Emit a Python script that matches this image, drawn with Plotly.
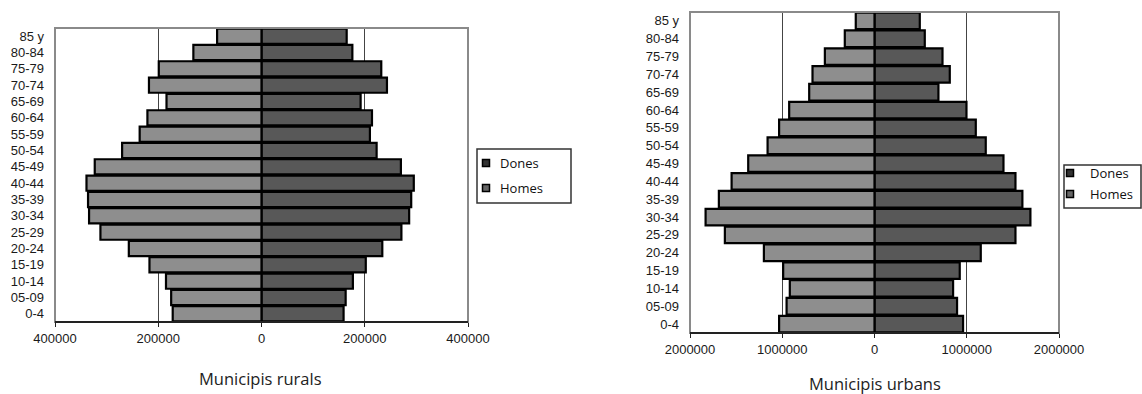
import plotly.graph_objects as go

ages = ["0-4", "05-09", "10-14", "15-19", "20-24", "25-29", "30-34", "35-39",
        "40-44", "45-49", "50-54", "55-59", "60-64", "65-69", "70-74", "75-79",
        "80-84", "85 y"]

rural_homes = [172000, 175000, 185000, 217000, 257000, 312000, 334000, 336000,
               339000, 323000, 270000, 236000, 221000, 184000, 218000, 199000,
               132000, 86000]
rural_dones = [159000, 163000, 177000, 202000, 234000, 271000, 286000, 290000,
               295000, 270000, 223000, 210000, 214000, 192000, 243000, 232000,
               176000, 165000]

urban_homes = [1034000, 953000, 918000, 990000, 1199000, 1622000, 1831000, 1687000,
               1549000, 1369000, 1159000, 1034000, 925000, 708000, 672000, 538000,
               322000, 203000]
urban_dones = [960000, 895000, 852000, 924000, 1152000, 1528000, 1690000, 1603000,
               1528000, 1398000, 1206000, 1098000, 997000, 693000, 816000, 737000,
               545000, 491000]

rural_ticks = [-400000, -200000, 0, 200000, 400000]
rural_ticktext = ["400000", "200000", "0", "200000", "400000"]
urban_ticks = [-2000000, -1000000, 0, 1000000, 2000000]
urban_ticktext = ["2000000", "1000000", "0", "1000000", "2000000"]

series_names = ["Dones", "Homes"]
titles = ["Municipis rurals", "Municipis urbans"]

W, H = 1142, 394
DONES_COL = "#585858"
HOMES_COL = "#8e8e8e"
TICK_FONT = dict(family="Liberation Sans", size=13, color="#1a1a1a")
TEXT_FONT = dict(family="Open Sans", size=13, color="#111")


def px_x(p):
    return p / W


def px_y(p):
    return 1 - p / H


fig = go.Figure()

fig.add_trace(go.Bar(y=ages, x=rural_dones, orientation="h", name=series_names[0],
                     marker=dict(color=DONES_COL, line=dict(color="black", width=2.2)),
                     xaxis="x", yaxis="y"))
fig.add_trace(go.Bar(y=ages, x=[-v for v in rural_homes], orientation="h", name=series_names[1],
                     marker=dict(color=HOMES_COL, line=dict(color="black", width=2.2)),
                     xaxis="x", yaxis="y"))
fig.add_trace(go.Bar(y=ages, x=urban_dones, orientation="h", name=series_names[0],
                     marker=dict(color=DONES_COL, line=dict(color="black", width=2.2)),
                     xaxis="x2", yaxis="y2"))
fig.add_trace(go.Bar(y=ages, x=[-v for v in urban_homes], orientation="h", name=series_names[1],
                     marker=dict(color=HOMES_COL, line=dict(color="black", width=2.2)),
                     xaxis="x2", yaxis="y2"))

# plot areas in pixels: (left, right, top, bottom)
L_box = (55, 468, 28, 322)
R_box = (690, 1059, 12, 333)

common_x = dict(type="linear", showgrid=True, gridcolor="#444", gridwidth=1.2, zeroline=False,
                showline=False, ticks="outside",
                ticklen=4, tickcolor="#222", tickwidth=1.2, tickfont=TICK_FONT, fixedrange=True,
                automargin=False)
common_y = dict(type="category", showgrid=False, zeroline=False, showline=False, ticks="",
                tickfont=TICK_FONT, ticklabelstandoff=10, fixedrange=True,
                automargin=False)

shapes = []
annotations = []
for (l, r, t, b) in (L_box, R_box):
    shapes.append(dict(type="rect", xref="paper", yref="paper",
                       x0=px_x(l), x1=px_x(r), y0=px_y(b), y1=px_y(t),
                       line=dict(color="#8a8a8a", width=2), layer="above"))
    shapes.append(dict(type="line", xref="paper", yref="paper",
                       x0=px_x(l), x1=px_x(r), y0=px_y(b), y1=px_y(b),
                       line=dict(color="#222", width=2), layer="above"))

# legends: (box left, right, top, bottom, marker x, text x, row ys)
legends = [
    (477, 571, 149, 203, 486, 498, (163, 188)),
    (1064, 1141, 165, 208, 1070, 1088, (173, 194)),
]
for (bl, br, bt, bb, mx, tx, ys) in legends:
    shapes.append(dict(type="rect", xref="paper", yref="paper",
                       x0=px_x(bl), x1=px_x(br), y0=px_y(bb), y1=px_y(bt),
                       line=dict(color="#333", width=1.5), fillcolor="white", layer="above"))
    for name, yy in zip(series_names, ys):
        shapes.append(dict(type="rect", xref="paper", yref="paper",
                           x0=px_x(mx - 3.5), x1=px_x(mx + 3.5),
                           y0=px_y(yy + 3.5), y1=px_y(yy - 3.5),
                           line=dict(color="black", width=1.5),
                           fillcolor="#333" if name == "Dones" else "#666", layer="above"))
        annotations.append(dict(text=name, x=px_x(tx), y=px_y(yy), xref="paper", yref="paper",
                                xanchor="left", yanchor="middle", showarrow=False,
                                font=TEXT_FONT))

annotations.append(dict(text=titles[0], x=px_x(260), y=px_y(378), xref="paper", yref="paper",
                        xanchor="center", yanchor="middle", showarrow=False,
                        font=dict(family="Open Sans", size=16.5, color="#222")))
annotations.append(dict(text=titles[1], x=px_x(875), y=px_y(383), xref="paper", yref="paper",
                        xanchor="center", yanchor="middle", showarrow=False,
                        font=dict(family="Open Sans", size=16.5, color="#222")))

fig.update_layout(
    width=W, height=H,
    margin=dict(l=0, r=0, t=0, b=0, pad=0, autoexpand=False),
    paper_bgcolor="white", plot_bgcolor="white",
    barmode="relative", bargap=0.07,
    showlegend=False,
    xaxis=dict(domain=[px_x(L_box[0]), px_x(L_box[1])], anchor="y", range=[-400000, 400000],
               tickvals=rural_ticks, ticktext=rural_ticktext, **common_x),
    yaxis=dict(domain=[px_y(L_box[3]), px_y(L_box[2])], anchor="x", categoryorder="array",
               categoryarray=ages, **common_y),
    xaxis2=dict(domain=[px_x(R_box[0]), px_x(R_box[1])], anchor="y2", range=[-2000000, 2000000],
                tickvals=urban_ticks, ticktext=urban_ticktext, **common_x),
    yaxis2=dict(domain=[px_y(R_box[3]), px_y(R_box[2])], anchor="x2", categoryorder="array",
                categoryarray=ages, **common_y),
    shapes=shapes,
    annotations=annotations,
)

fig.write_html("out.html", config={"displayModeBar": False},
               post_script="document.body.style.margin='0';document.body.style.overflow='hidden';")
